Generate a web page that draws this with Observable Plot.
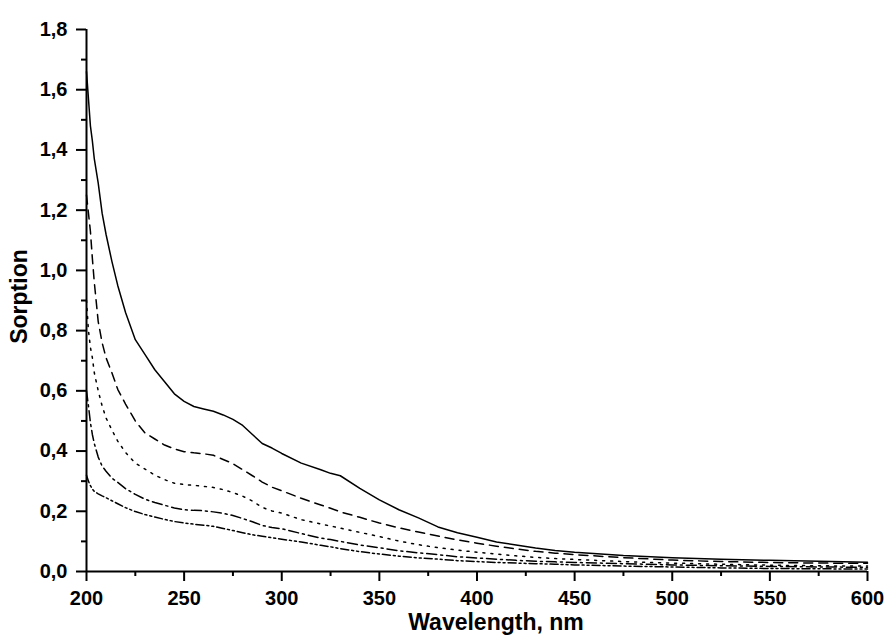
<!DOCTYPE html>
<html>
<head>
<meta charset="utf-8">
<script src="https://cdn.jsdelivr.net/npm/d3@7"></script>
<script src="https://cdn.jsdelivr.net/npm/@observablehq/plot@0.6"></script>
<style>
  html, body { margin: 0; padding: 0; background: #fff; }
  #chart svg { display: block; }
</style>
</head>
<body>
<div id="chart"></div>
<script>
const wavelength = [200, 201, 202, 203, 204, 206, 208, 210, 213, 216, 220, 225, 230, 235, 240, 245, 250, 255, 260, 265, 270, 275, 280, 285, 290, 295, 300, 310, 320, 325, 330, 340, 350, 360, 370, 380, 390, 400, 410, 420, 430, 440, 450, 475, 500, 525, 550, 575, 600];

const sorptionSolid = [1.66, 1.57, 1.48, 1.43, 1.37, 1.29, 1.19, 1.12, 1.03, 0.95, 0.86, 0.77, 0.72, 0.67, 0.63, 0.59, 0.565, 0.548, 0.54, 0.532, 0.52, 0.505, 0.485, 0.455, 0.425, 0.41, 0.392, 0.36, 0.338, 0.326, 0.318, 0.276, 0.238, 0.205, 0.178, 0.148, 0.129, 0.114, 0.098, 0.088, 0.078, 0.07, 0.064, 0.053, 0.046, 0.041, 0.037, 0.034, 0.031];

const sorptionDashed = [1.25, 1.19, 1.13, 1.04, 0.96, 0.83, 0.76, 0.71, 0.66, 0.605, 0.556, 0.50, 0.46, 0.44, 0.42, 0.407, 0.398, 0.394, 0.391, 0.386, 0.372, 0.358, 0.338, 0.318, 0.297, 0.28, 0.268, 0.243, 0.221, 0.21, 0.198, 0.18, 0.161, 0.145, 0.131, 0.118, 0.105, 0.094, 0.084, 0.075, 0.067, 0.061, 0.056, 0.046, 0.038, 0.033, 0.030, 0.028, 0.027];

const sorptionDotted = [0.90, 0.80, 0.745, 0.71, 0.66, 0.60, 0.55, 0.51, 0.47, 0.433, 0.395, 0.36, 0.34, 0.32, 0.305, 0.293, 0.289, 0.286, 0.283, 0.279, 0.272, 0.262, 0.25, 0.234, 0.213, 0.201, 0.194, 0.172, 0.158, 0.151, 0.144, 0.13, 0.116, 0.101, 0.089, 0.079, 0.071, 0.064, 0.058, 0.052, 0.047, 0.043, 0.040, 0.033, 0.028, 0.024, 0.021, 0.019, 0.018];

const sorptionDashDot = [0.60, 0.55, 0.495, 0.455, 0.425, 0.38, 0.35, 0.333, 0.31, 0.296, 0.275, 0.256, 0.24, 0.229, 0.22, 0.211, 0.205, 0.203, 0.202, 0.198, 0.193, 0.186, 0.176, 0.165, 0.153, 0.146, 0.142, 0.126, 0.111, 0.106, 0.1, 0.088, 0.079, 0.069, 0.062, 0.056, 0.049, 0.045, 0.041, 0.037, 0.034, 0.032, 0.030, 0.026, 0.022, 0.019, 0.017, 0.015, 0.014];

const sorptionDashDotDot = [0.32, 0.30, 0.285, 0.274, 0.266, 0.258, 0.251, 0.245, 0.235, 0.225, 0.212, 0.199, 0.189, 0.181, 0.173, 0.166, 0.161, 0.157, 0.154, 0.15, 0.143, 0.136, 0.129, 0.122, 0.117, 0.112, 0.107, 0.098, 0.087, 0.082, 0.076, 0.066, 0.058, 0.051, 0.045, 0.041, 0.036, 0.033, 0.030, 0.028, 0.026, 0.024, 0.022, 0.018, 0.015, 0.012, 0.010, 0.009, 0.008];

const xTicks = [200, 250, 300, 350, 400, 450, 500, 550, 600];
const xMinorTicks = [225, 275, 325, 375, 425, 475, 525, 575];
const yTicks = [0, 0.2, 0.4, 0.6, 0.8, 1.0, 1.2, 1.4, 1.6, 1.8];
const yMinorTicks = [0.1, 0.3, 0.5, 0.7, 0.9, 1.1, 1.3, 1.5, 1.7];

const xLabel = "Wavelength, nm";
const yLabel = "Sorption";

const seriesList = [
  {values: sorptionSolid, dash: null},
  {values: sorptionDashed, dash: "9,6"},
  {values: sorptionDotted, dash: "2,6"},
  {values: sorptionDashDot, dash: "10,4,2,4"},
  {values: sorptionDashDotDot, dash: "8,3,2,3,2,3"}
];

const toRows = (vals) => wavelength.map((w, i) => ({w, v: vals[i]}));
const fmtY = (d) => d3.format(".1f")(d).replace(".", ",");
const blank = () => "";

const marks = [];
for (const s of seriesList) {
  marks.push(Plot.line(toRows(s.values), {
    x: "w", y: "v", stroke: "#000", strokeWidth: 1.5,
    strokeDasharray: s.dash == null ? undefined : s.dash
  }));
}

marks.push(
  // major / minor tick lines
  Plot.axisY(yTicks, {tickSize: 10, strokeWidth: 2, tickFormat: blank, label: null}),
  Plot.axisY(yMinorTicks, {tickSize: 5, strokeWidth: 2, tickFormat: blank, label: null}),
  Plot.axisX(xTicks, {tickSize: 10, strokeWidth: 2, tickFormat: blank, label: null}),
  Plot.axisX(xMinorTicks, {tickSize: 5, strokeWidth: 2, tickFormat: blank, label: null}),
  // tick labels
  Plot.axisY(yTicks, {tickSize: 0, tickPadding: 19, tickFormat: fmtY, label: null, fontSize: 20, fontWeight: "bold"}),
  Plot.axisX(xTicks, {tickSize: 0, tickPadding: 19, tickFormat: d3.format("d"), label: null, fontSize: 20, fontWeight: "bold"}),
  // axis lines
  Plot.ruleX([200], {y1: 0, y2: 1.8, stroke: "#000", strokeWidth: 2}),
  Plot.ruleY([0], {x1: 200, x2: 600, stroke: "#000", strokeWidth: 2}),
  // axis titles
  Plot.text([xLabel], {frameAnchor: "bottom", textAnchor: "middle", dx: 19, dy: 51, lineAnchor: "middle", fontSize: 23, fontWeight: "bold"}),
  Plot.text([yLabel], {frameAnchor: "left", textAnchor: "middle", rotate: -90, dx: -67, dy: -4, lineAnchor: "middle", fontSize: 23, fontWeight: "bold"})
);

const chart = Plot.plot({
  width: 886,
  height: 635,
  marginTop: 29,
  marginBottom: 64,
  marginLeft: 86,
  marginRight: 19,
  style: {fontFamily: "'Liberation Sans', Arial, sans-serif", fontWeight: "bold", fontSize: "20px", color: "#000", background: "#fff"},
  x: {domain: [200, 600], axis: null},
  y: {domain: [0, 1.8], axis: null},
  marks
});
document.getElementById("chart").appendChild(chart);
</script>
</body>
</html>
